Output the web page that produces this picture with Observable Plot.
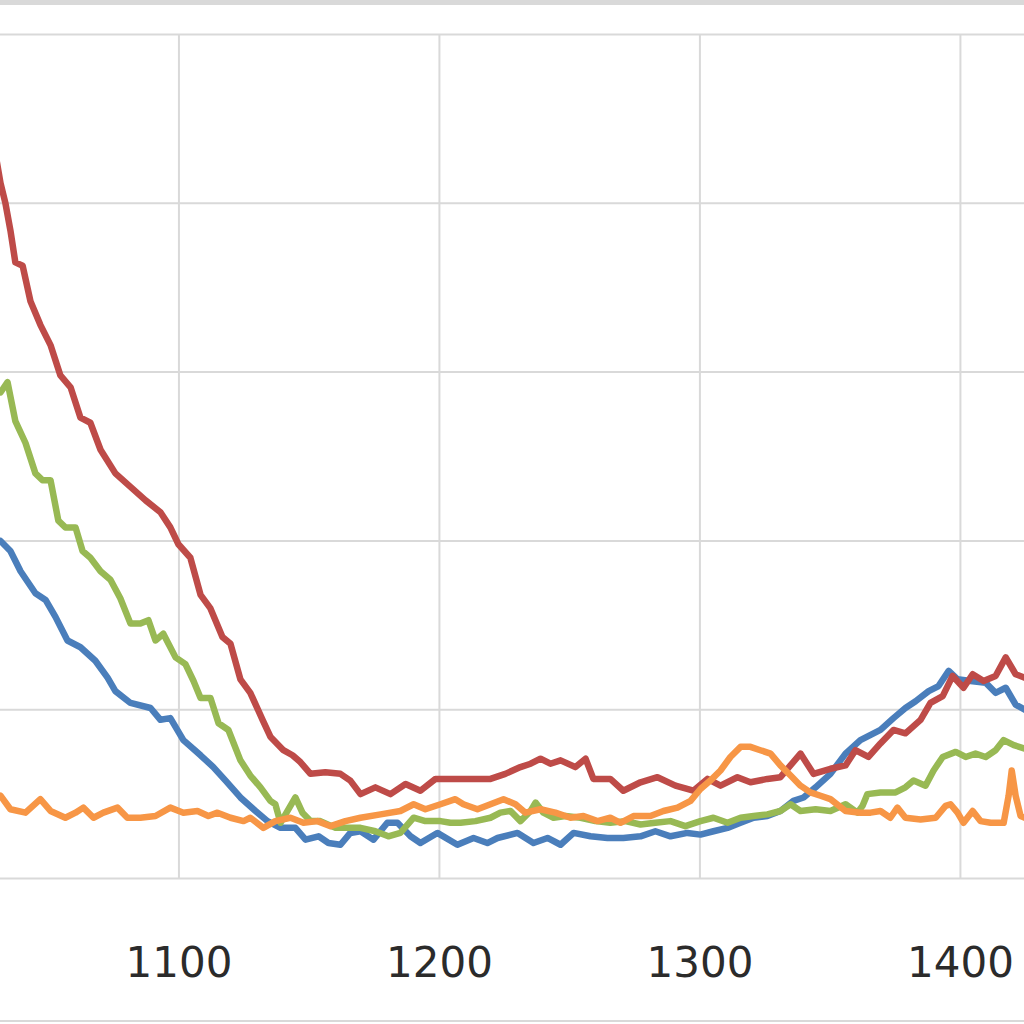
<!DOCTYPE html>
<html>
<head>
<meta charset="utf-8">
<script src="https://cdn.jsdelivr.net/npm/d3@7"></script>
<script src="https://cdn.jsdelivr.net/npm/@observablehq/plot@0.6"></script>
<style>
  html, body { margin: 0; padding: 0; background: #ffffff; }
  #wrap { position: relative; width: 1024px; height: 1024px; overflow: hidden; background: #fff; }
  #wrap svg { position: absolute; left: 0; top: 0; }
  .band { position: absolute; left: 0; width: 1024px; background: #d9d9d9; }
</style>
</head>
<body>
<div id="wrap">
  <div class="band" style="top:0;height:5px;"></div>
  <div class="band" style="top:1020px;height:2px;"></div>
</div>
<script>
// ---- data ----
const xTicks = [1100, 1200, 1300, 1400];
const yGrid = [0, 10, 20, 30, 40, 50];

const blueX = [1031.5,1035.3,1039.2,1044.9,1048.8,1052.6,1057.2,1062.2,1067.9,1072.6,1075.6,1081.4,1089.1,1092.9,1096.7,1101.7,1108.3,1113.2,1117.9,1123.6,1129.4,1134.0,1139.0,1144.7,1148.6,1153.6,1157.4,1162.0,1165.8,1169.7,1174.7,1180.0,1183.9,1188.9,1192.7,1199.2,1206.9,1213.1,1218.4,1222.3,1230.0,1236.1,1241.5,1246.5,1251.5,1258.0,1264.5,1270.6,1277.2,1282.9,1288.7,1295.2,1300.2,1305.2,1310.6,1315.6,1320.6,1325.9,1330.9,1335.9,1339.8,1344.4,1350.1,1355.9,1361.6,1369.3,1374.3,1378.9,1382.8,1387.8,1391.6,1395.5,1398.9,1403.9,1409.7,1413.5,1417.4,1421.2,1424.7,1427];
const blueY = [20.0,19.4,18.2,16.9,16.5,15.5,14.1,13.7,12.9,11.9,11.1,10.4,10.1,9.4,9.5,8.2,7.3,6.6,5.8,4.8,4.0,3.4,3.0,3.0,2.3,2.5,2.1,2.0,2.7,2.8,2.3,3.3,3.3,2.5,2.1,2.7,2.0,2.4,2.1,2.4,2.7,2.1,2.4,2.0,2.7,2.5,2.4,2.4,2.5,2.8,2.5,2.7,2.6,2.8,3.0,3.3,3.6,3.7,4.0,4.6,4.8,5.4,6.2,7.4,8.2,8.8,9.5,10.1,10.5,11.1,11.4,12.3,11.8,11.7,11.6,11.0,11.3,10.3,10.0,9.8];

const redX = [1029.5,1031.5,1033.4,1035.3,1037.2,1040.0,1043.0,1046.8,1050.7,1054.5,1058.4,1062.2,1066.0,1069.9,1075.6,1081.4,1087.2,1092.9,1096.7,1099.8,1104.4,1108.3,1112.1,1116.7,1119.8,1123.6,1127.4,1132.1,1135.1,1140.1,1143.6,1146.6,1150.5,1156.2,1162.0,1165.8,1169.7,1175.4,1181.2,1187.0,1192.7,1198.5,1208.1,1219.6,1225.3,1231.1,1235.0,1238.8,1242.6,1246.5,1252.2,1256.1,1259.1,1265.6,1270.6,1277.2,1283.7,1290.6,1297.5,1302.9,1307.9,1314.4,1319.4,1325.9,1330.9,1338.6,1343.6,1350.1,1355.9,1359.7,1364.7,1369.3,1374.3,1378.9,1384.7,1388.5,1393.2,1397.0,1401.2,1404.7,1408.9,1413.5,1417.4,1421.2,1424.7,1427];
const redY = [43.0,41.2,40.0,38.4,36.5,36.3,34.2,32.8,31.6,29.8,29.1,27.3,27.0,25.4,24.0,23.2,22.4,21.7,20.8,19.8,19.0,16.8,16.0,14.3,13.9,11.8,11.0,9.4,8.4,7.6,7.3,6.9,6.2,6.3,6.2,5.8,5.0,5.4,5.0,5.6,5.2,5.9,5.9,5.9,6.2,6.6,6.8,7.1,6.8,7.0,6.6,7.1,5.9,5.9,5.2,5.7,6.0,5.5,5.2,5.9,5.5,6.0,5.7,5.9,6.0,7.4,6.2,6.5,6.7,7.6,7.2,8.0,8.8,8.6,9.4,10.4,10.8,12.0,11.3,12.1,11.7,12.0,13.1,12.1,11.9,11.7];

const greenX = [1031.5,1034.2,1037.2,1041.1,1044.9,1047.6,1050.7,1053.7,1056.4,1060.3,1063.0,1066.0,1069.9,1073.7,1077.5,1081.4,1085.2,1088.3,1091.0,1094.0,1098.7,1102.5,1105.6,1108.3,1112.1,1115.2,1119.0,1123.6,1127.4,1131.3,1135.1,1137.0,1139.0,1142.8,1144.7,1147.4,1150.5,1154.3,1160.1,1163.9,1169.7,1175.4,1180.4,1185.0,1190.1,1194.6,1200.4,1204.2,1208.1,1213.8,1219.6,1223.4,1227.3,1231.1,1235.0,1236.9,1239.9,1243.8,1248.4,1254.2,1259.9,1265.6,1271.4,1277.2,1282.9,1288.7,1294.4,1300.2,1305.2,1310.6,1315.6,1320.6,1325.9,1330.9,1334.8,1338.6,1344.4,1350.1,1355.9,1360.5,1362.4,1364.3,1369.3,1375.1,1378.9,1382.0,1386.6,1389.7,1393.2,1398.2,1402.0,1405.8,1409.7,1413.5,1416.6,1420.5,1424.7,1427];
const greenY = [28.8,29.4,27.1,25.8,24.0,23.6,23.6,21.2,20.8,20.8,19.4,19.0,18.2,17.7,16.6,15.1,15.1,15.3,14.1,14.5,13.1,12.7,11.7,10.7,10.7,9.2,8.8,7.0,6.1,5.4,4.6,4.4,3.3,4.3,4.8,3.9,3.4,3.4,3.0,3.0,3.0,2.8,2.5,2.7,3.6,3.4,3.4,3.3,3.3,3.4,3.6,3.9,4.0,3.4,4.0,4.5,3.9,3.6,3.7,3.6,3.4,3.3,3.4,3.2,3.3,3.4,3.1,3.4,3.6,3.3,3.6,3.7,3.8,4.0,4.4,4.0,4.1,4.0,4.4,3.9,4.3,5.0,5.1,5.1,5.4,5.8,5.5,6.4,7.2,7.5,7.2,7.4,7.2,7.6,8.2,7.9,7.7,7.7];

const orangeX = [1031.5,1035.3,1041.1,1046.8,1050.7,1056.4,1060.3,1063.3,1067.2,1071.0,1076.4,1080.2,1085.2,1091.0,1096.7,1101.7,1107.1,1111.3,1114.8,1119.8,1124.8,1127.4,1132.4,1137.0,1142.8,1147.8,1153.2,1158.2,1163.9,1169.7,1177.4,1185.0,1190.1,1194.6,1200.4,1206.1,1209.2,1214.6,1219.6,1224.6,1229.2,1233.0,1238.8,1244.5,1250.3,1255.3,1260.7,1265.6,1269.5,1274.5,1281.0,1286.0,1291.4,1296.4,1300.2,1304.0,1307.9,1311.7,1315.6,1319.4,1323.2,1327.1,1330.9,1334.8,1338.6,1342.4,1346.3,1350.1,1355.9,1361.6,1365.5,1369.3,1373.1,1375.8,1378.9,1384.7,1390.5,1394.3,1396.2,1398.9,1401.2,1404.7,1407.7,1411.6,1416.6,1418.5,1419.7,1421.2,1423.1,1424.7,1427];
const orangeY = [4.9,4.1,3.9,4.7,4.0,3.6,3.9,4.2,3.6,3.9,4.2,3.6,3.6,3.7,4.2,3.9,4.0,3.7,3.9,3.6,3.4,3.6,3.0,3.4,3.6,3.3,3.4,3.1,3.4,3.6,3.8,4.0,4.4,4.1,4.4,4.7,4.4,4.1,4.4,4.7,4.4,3.9,4.1,3.9,3.6,3.7,3.4,3.6,3.3,3.7,3.7,4.0,4.2,4.6,5.3,5.8,6.4,7.2,7.8,7.8,7.6,7.4,6.7,6.1,5.5,5.1,4.9,4.7,4.0,3.9,3.9,4.0,3.6,4.2,3.6,3.5,3.6,4.3,4.4,3.9,3.3,4.0,3.4,3.3,3.3,4.9,6.4,4.9,3.7,3.6,3.7];

const seriesNames = ["Series 1", "Series 2", "Series 3", "Series 4"];
const seriesColors = ["#4A7EBB", "#BE4B48", "#98B954", "#F79646"];

// build a long table from the arrays
const xs = [blueX, redX, greenX, orangeX];
const ys = [blueY, redY, greenY, orangeY];
const rows = [];
seriesNames.forEach((name, i) => {
  xs[i].forEach((x, j) => rows.push({series: name, x, y: ys[i][j]}));
});

const chart = Plot.plot({
  width: 1024,
  height: 1024,
  marginLeft: 0,
  marginRight: 0,
  marginTop: 34,
  marginBottom: 146,
  style: {background: "transparent", fontFamily: "DejaVu Sans, sans-serif"},
  x: {domain: [1031.5, 1424.6], ticks: xTicks, tickFormat: d => String(d), label: null},
  y: {domain: [0, 50], axis: null},
  color: {domain: seriesNames, range: seriesColors},
  marks: [
    Plot.ruleY(yGrid, {stroke: "#d9d9d9", strokeWidth: 2}),
    Plot.ruleX(xTicks, {y1: 0, y2: 50, stroke: "#d9d9d9", strokeWidth: 2}),
    Plot.axisX({ticks: xTicks, tickSize: 0, tickPadding: 69, fontSize: 42, fill: "#2b2b2b", label: null, tickFormat: d => String(d)}),
    Plot.line(rows, {x: "x", y: "y", z: "series", stroke: "series", strokeWidth: 6.5, strokeLinejoin: "round", strokeLinecap: "round", clip: true})
  ]
});
document.getElementById("wrap").prepend(chart);
</script>
</body>
</html>
